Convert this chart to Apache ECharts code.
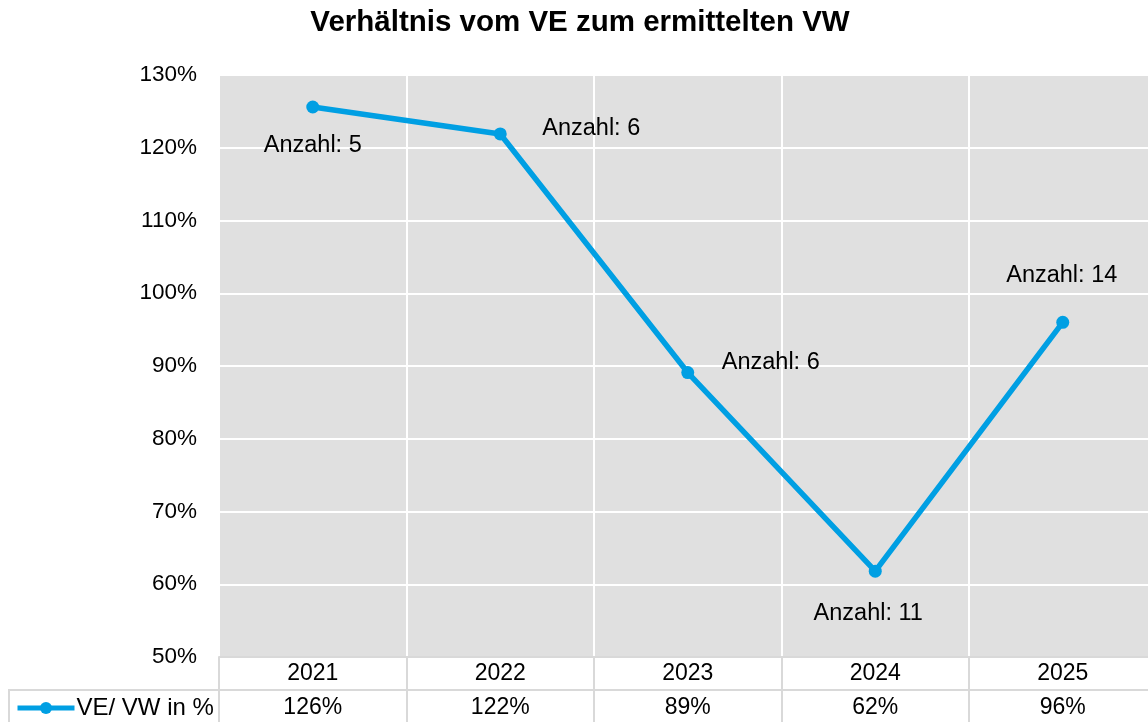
<!DOCTYPE html>
<html>
<head>
<meta charset="utf-8">
<script src="https://cdn.jsdelivr.net/npm/echarts@6/dist/echarts.min.js"></script>
<style>
html,body{margin:0;padding:0;background:#fff;overflow:hidden;}
#c{width:1160px;height:722px;}
</style>
</head>
<body>
<div id="c"></div>
<script>
const years = ['2021', '2022', '2023', '2024', '2025'];
const ratioPercent = [125.6, 121.9, 89.1, 61.8, 96.0];
const counts = [5, 6, 6, 11, 14];
const seriesName = 'VE/ VW in %';
const yTicks = { min: 50, max: 130, interval: 10 };

// label placement (style only)
const labelOffsets = [[0, 39], [91, -5], [83, -10], [-7, 42], [-1, -47]];

const FONT = 'Liberation Sans, Arial, sans-serif';
const BLUE = '#009fe3';
const TABLE = '#d9d9d9';
const FS = 23;

const chart = echarts.init(document.getElementById('c'), null, { renderer: 'canvas' });

const seriesData = ratioPercent.map((v, i) => ({
  value: v,
  label: {
    show: true,
    position: 'inside',
    offset: labelOffsets[i],
    formatter: 'Anzahl: ' + counts[i]
  }
}));

chart.setOption({
  backgroundColor: '#ffffff',
  animation: false,
  title: {
    text: 'Verhältnis vom VE zum ermittelten VW',
    left: 580,
    textAlign: 'center',
    top: 8,
    padding: 0,
    textStyle: { fontFamily: FONT, fontSize: 29.5, fontWeight: 'bold', color: '#000' }
  },
  legend: {
    data: [seriesName],
    left: 15,
    top: 696,
    padding: 0,
    itemWidth: 57,
    itemHeight: 15,
    itemGap: 4,
    lineStyle: { width: 5 },
    textStyle: { fontFamily: FONT, fontSize: 24, color: '#000', padding: [0, 0, 0, -3] }
  },
  grid: {
    left: 219,
    top: 75,
    bottom: 65,
    width: 937.5,
    show: true,
    backgroundColor: '#e0e0e0',
    borderWidth: 0,
    containLabel: false
  },
  xAxis: [
    {
      type: 'category',
      data: years,
      boundaryGap: true,
      position: 'bottom',
      axisLine: { show: true, lineStyle: { color: TABLE, width: 2 } },
      axisTick: { show: true, interval: 0, length: 65, inside: false, lineStyle: { color: TABLE, width: 2 } },
      axisLabel: { interval: 0, margin: 5, fontFamily: FONT, fontSize: FS, color: '#000' },
      splitLine: { show: true, interval: 0, lineStyle: { color: '#ffffff', width: 2 } }
    },
    {
      type: 'category',
      data: ratioPercent.map(v => Math.round(v) + '%'),
      boundaryGap: true,
      position: 'bottom',
      offset: 33,
      axisLine: { show: true, lineStyle: { color: TABLE, width: 2 } },
      axisTick: { show: false },
      axisLabel: { interval: 0, margin: 6, fontFamily: FONT, fontSize: FS, color: '#000' },
      splitLine: { show: false }
    }
  ],
  yAxis: {
    type: 'value',
    min: yTicks.min,
    max: yTicks.max,
    interval: yTicks.interval,
    axisLine: { show: false },
    axisTick: { show: false },
    axisLabel: { formatter: '{value}%', margin: 22, fontFamily: FONT, fontSize: 22.5, color: '#000' },
    splitLine: { show: true, lineStyle: { color: '#ffffff', width: 2 } }
  },
  graphic: [
    { type: 'line', shape: { x1: 9, y1: 690, x2: 220, y2: 690 }, style: { stroke: TABLE, lineWidth: 2 }, z: 5 },
    { type: 'line', shape: { x1: 9, y1: 689, x2: 9, y2: 722 }, style: { stroke: TABLE, lineWidth: 2 }, z: 5 }
  ],
  series: [{
    name: seriesName,
    type: 'line',
    xAxisIndex: 0,
    data: seriesData,
    symbol: 'circle',
    symbolSize: 13,
    lineStyle: { color: BLUE, width: 5.5 },
    itemStyle: { color: BLUE },
    label: { fontFamily: FONT, fontSize: 23.5, color: '#000' },
    emphasis: { disabled: true },
    z: 10
  }]
});
</script>
</body>
</html>
